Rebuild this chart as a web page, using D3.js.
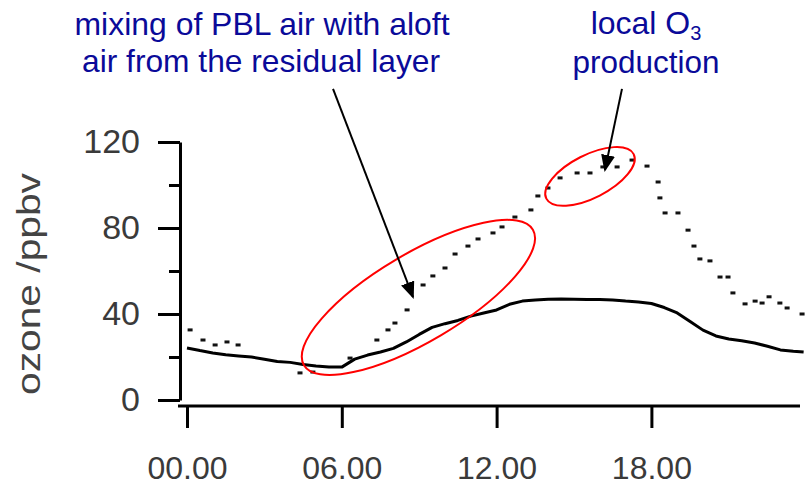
<!DOCTYPE html>
<html>
<head>
<meta charset="utf-8">
<script src="https://cdn.jsdelivr.net/npm/d3@7"></script>
<style>
  body { margin: 0; background: #fff; }
  svg { display: block; font-family: "Liberation Sans", Arial, sans-serif; }
  .axis path, .axis line { stroke: #000; stroke-width: 3; }
  .axis text { fill: #3a3a3a; }
</style>
</head>
<body>
<div id="chart"></div>
<script>
// hours of day and ozone (ppbv)
var pblHours = [0, 0.5, 1, 1.5, 2, 2.5, 3, 3.5, 4, 4.5, 5, 5.5, 6, 6.5, 7, 7.5, 8, 8.5, 9, 9.5,
                10, 10.5, 11, 11.5, 12, 12.5, 13, 13.5, 14, 14.5, 15, 15.5, 16, 16.5, 17, 17.5,
                18, 18.5, 19, 19.5, 20, 20.5, 21, 21.5, 22, 22.5, 23, 23.5, 23.9];
var pblOzone = [24.2, 23, 21.9, 21, 20.5, 20, 19, 17.9, 17.5, 16.5, 15.8, 15.3, 15.3, 19, 20.9, 22.3,
                24, 27, 30.5, 33.8, 35.5, 37, 39, 40.5, 41.9, 44.5, 46, 46.5, 46.9, 47, 46.9, 46.7,
                46.7, 46.5, 46, 45.6, 44.9, 43, 40.5, 36.5, 32.5, 29.8, 28.4, 27.6, 26.5, 25, 23.3,
                22.7, 22.3];

var aloftHours = [0.12, 0.62, 1.09, 1.55, 1.98, 4.38, 4.88, 6.32, 7.36, 7.79, 8.06, 8.53, 9.15, 9.53,
                  10.0, 10.39, 10.89, 11.28, 11.86, 12.21, 12.71, 13.33, 13.6, 13.99, 14.46, 15.12,
                  15.62, 16.12, 16.67, 17.25, 17.83, 18.26, 18.33, 18.53, 19.03, 19.42, 19.65, 19.88,
                  20.27, 20.66, 20.97, 21.16, 21.63, 22.02, 22.29, 22.56, 22.98, 23.26, 23.84];
var aloftOzone = [32.6, 27.9, 25.6, 27, 25.6, 12.6, 13, 19.5, 27.9, 32.6, 35.8, 41.9, 53.5, 57.7,
                  61.4, 67.9, 71.6, 74.9, 77.7, 80.5, 85.1, 88.4, 94.9, 98.6, 103.3, 105.6,
                  105.6, 108.4, 108.4, 111.6, 108.8, 101.4, 94, 87, 87, 79, 71.6, 65.6,
                  64.7, 57.2, 57.2, 49.8, 44.7, 46, 45.1, 48, 45.1, 42.8, 40];

var xTicks = [0, 6, 12, 18];
var xTickLabels = ['00.00', '06.00', '12.00', '18.00'];
var yTicks = [0, 40, 80, 120];
var yMinorTicks = [20, 60, 100];

var width = 806, height = 486;

var x = d3.scaleLinear().domain([0, 24]).range([187, 806.2]);
var y = d3.scaleLinear().domain([0, 120]).range([400, 142]);

var svg = d3.select('#chart').append('svg')
  .attr('width', width)
  .attr('height', height);

// arrow head
svg.append('defs').append('marker')
  .attr('id', 'head')
  .attr('markerUnits', 'userSpaceOnUse')
  .attr('viewBox', '0 0 17 14')
  .attr('markerWidth', 17)
  .attr('markerHeight', 14)
  .attr('refX', 15)
  .attr('refY', 7)
  .attr('orient', 'auto')
  .append('path')
  .attr('d', 'M0,0 L17,7 L0,14 z')
  .attr('fill', '#000');

// y axis
var yAxis = svg.append('g')
  .attr('class', 'axis')
  .attr('transform', 'translate(180,0)')
  .call(d3.axisLeft(y).tickValues(yTicks).tickSize(22).tickSizeOuter(0).tickPadding(18));
yAxis.selectAll('text').style('font-size', '34px');

svg.append('g')
  .attr('class', 'axis')
  .attr('transform', 'translate(180,0)')
  .call(d3.axisLeft(y).tickValues(yMinorTicks).tickSize(11).tickFormat(''))
  .select('.domain').remove();

// x axis
var xAxis = svg.append('g')
  .attr('class', 'axis')
  .attr('transform', 'translate(0,406)')
  .call(d3.axisBottom(x).tickValues(xTicks).tickSize(22).tickPadding(28)
        .tickFormat(function(d, i) { return xTickLabels[i]; }));
xAxis.select('.domain').remove();
xAxis.selectAll('text').style('font-size', '32px');
xAxis.append('line')
  .attr('x1', 178).attr('x2', 800)
  .attr('stroke', '#000').attr('stroke-width', 3);

// axis title
svg.append('text')
  .attr('transform', 'translate(40,284) rotate(-90)')
  .attr('text-anchor', 'middle')
  .attr('textLength', 222)
  .attr('lengthAdjust', 'spacingAndGlyphs')
  .style('font-size', '34px')
  .style('fill', '#444')
  .text('ozone /ppbv');

// PBL ozone (solid trace)
var pbl = pblHours.map(function(h, i) { return [h, pblOzone[i]]; });
var line = d3.line()
  .x(function(d) { return x(d[0]); })
  .y(function(d) { return y(d[1]); });

svg.append('path')
  .datum(pbl)
  .attr('d', line)
  .attr('fill', 'none')
  .attr('stroke', '#000')
  .attr('stroke-width', 3)
  .attr('stroke-linejoin', 'bevel');

// aloft ozone (dotted trace)
var aloft = aloftHours.map(function(h, i) { return [h, aloftOzone[i]]; });
svg.selectAll('rect.dot').data(aloft).enter()
  .append('rect')
  .attr('class', 'dot')
  .attr('x', function(d) { return x(d[0]) - 2.5; })
  .attr('y', function(d) { return y(d[1]) - 1.5; })
  .attr('width', 5)
  .attr('height', 3)
  .attr('fill', '#111');

// red ellipses
var ellipses = [
  {h: 8.97, v: 47.7, rx: 133, ry: 44, rot: -30.6},
  {h: 15.62, v: 104.0, rx: 49, ry: 21.5, rot: -27}
];
svg.selectAll('ellipse').data(ellipses).enter()
  .append('ellipse')
  .attr('cx', function(d) { return x(d.h); })
  .attr('cy', function(d) { return y(d.v); })
  .attr('rx', function(d) { return d.rx; })
  .attr('ry', function(d) { return d.ry; })
  .attr('transform', function(d) { return 'rotate(' + d.rot + ' ' + x(d.h) + ' ' + y(d.v) + ')'; })
  .attr('fill', 'none')
  .attr('stroke', '#f00')
  .attr('stroke-width', 2);

// arrows: from label to feature
var arrows = [
  {h0: 5.66, v0: 144.7, h1: 8.76, v1: 47.9},
  {h0: 16.86, v0: 144.7, h1: 16.2, v1: 107}
];
svg.selectAll('line.arrow').data(arrows).enter()
  .append('line')
  .attr('class', 'arrow')
  .attr('x1', function(d) { return x(d.h0); })
  .attr('y1', function(d) { return y(d.v0); })
  .attr('x2', function(d) { return x(d.h1); })
  .attr('y2', function(d) { return y(d.v1); })
  .attr('stroke', '#000')
  .attr('stroke-width', 2)
  .attr('marker-end', 'url(#head)');

// annotation labels
var blue = '#0a0a99';
var labels = [
  {text: 'mixing of PBL air with aloft', cx: 262, by: 35, len: 375},
  {text: 'air from the residual layer', cx: 261, by: 72, len: 358},
  {text: 'production', cx: 646, by: 73, len: 147}
];
svg.selectAll('text.note').data(labels).enter()
  .append('text')
  .attr('class', 'note')
  .attr('x', function(d) { return d.cx; })
  .attr('y', function(d) { return d.by; })
  .attr('text-anchor', 'middle')
  .attr('textLength', function(d) { return d.len; })
  .attr('lengthAdjust', 'spacingAndGlyphs')
  .style('font-size', '32px')
  .style('fill', blue)
  .text(function(d) { return d.text; });

var o3 = svg.append('text')
  .attr('x', 646)
  .attr('y', 34)
  .attr('text-anchor', 'middle')
  .style('font-size', '32px')
  .style('fill', blue);
o3.append('tspan').text('local O');
o3.append('tspan').attr('dy', 6).style('font-size', '20px').text('3');
</script>
</body>
</html>
